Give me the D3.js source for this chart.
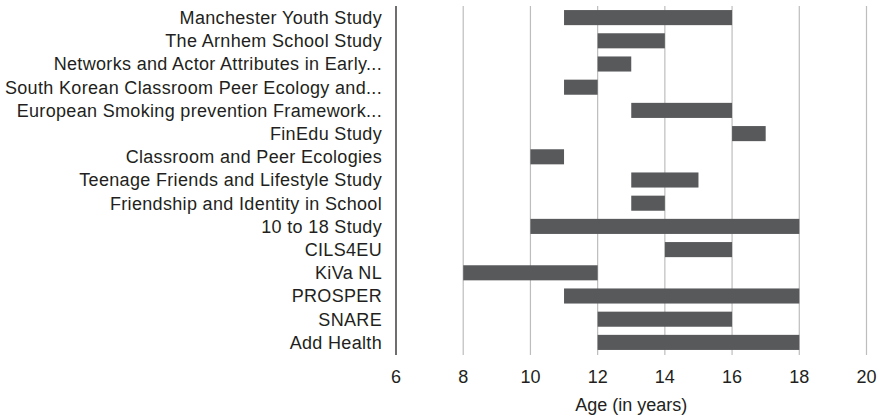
<!DOCTYPE html>
<html><head><meta charset="utf-8">
<script src="https://cdn.jsdelivr.net/npm/d3@7"></script>
<style>html,body{margin:0;padding:0;background:#fff;}</style>
</head><body>
<svg id="c" width="879" height="418"></svg>
<script>
const studies = ["Manchester Youth Study","The Arnhem School Study","Networks and Actor Attributes in Early...","South Korean Classroom Peer Ecology and...","European Smoking prevention Framework...","FinEdu Study","Classroom and Peer Ecologies","Teenage Friends and Lifestyle Study","Friendship and Identity in School","10 to 18 Study","CILS4EU","KiVa NL","PROSPER","SNARE","Add Health"];
const startAge = [11,12,12,11,13,16,10,13,13,10,14,8,11,12,12];
const endAge   = [16,14,13,12,16,17,11,15,14,18,16,12,18,16,18];
const xTicks = [6,8,10,12,14,16,18,20];
const xTitle = "Age (in years)";

const svg = d3.select("#c");
const m = {left:396, top:6, right:879-866.5, bottom:418-354};
const W = 879, H = 418;
const x = d3.scaleLinear().domain([6,20]).range([m.left, W-m.right]);
const y = d3.scaleBand().domain(studies).range([m.top, H-m.bottom]).paddingInner(0.35).paddingOuter(0.175);
const font = "'Liberation Sans', Arial, Helvetica, sans-serif";
const tc = "#231f20";

// gridlines
svg.append("g").selectAll("line").data(xTicks.slice(1)).join("line")
  .attr("x1", d=>x(d)).attr("x2", d=>x(d))
  .attr("y1", m.top).attr("y2", H-m.bottom+1)
  .attr("stroke", "#bdbdbd").attr("stroke-width", 1.2);

// bars
svg.append("g").selectAll("rect").data(studies).join("rect")
  .attr("x", (d,i)=>x(startAge[i]))
  .attr("width", (d,i)=>x(endAge[i])-x(startAge[i]))
  .attr("y", d=>y(d)).attr("height", y.bandwidth())
  .attr("fill", "#58595b");

// y axis line
svg.append("line").attr("x1", x(6)).attr("x2", x(6)).attr("y1", m.top).attr("y2", H-m.bottom+1)
  .attr("stroke", "#231f20").attr("stroke-width", 1.3);

// category labels
svg.append("g").selectAll("text").data(studies).join("text")
  .attr("x", x(6)-14).attr("y", d=>y(d)+y.bandwidth()/2)
  .attr("dy", "0.35em").attr("text-anchor", "end")
  .attr("font-family", font).attr("font-size", 18).attr("letter-spacing", 0.33).attr("fill", tc)
  .text(d=>d);

// x tick labels
svg.append("g").selectAll("text").data(xTicks).join("text")
  .attr("x", d=>x(d)).attr("y", 377).attr("dy", "0.35em").attr("text-anchor", "middle")
  .attr("font-family", font).attr("font-size", 18).attr("fill", tc)
  .text(d=>d);

svg.append("text").attr("x", (x(6)+x(20))/2).attr("y", 405).attr("dy","0.35em")
  .attr("text-anchor","middle").attr("font-family", font).attr("font-size", 18).attr("fill", tc)
  .text(xTitle);
</script>
</body></html>
